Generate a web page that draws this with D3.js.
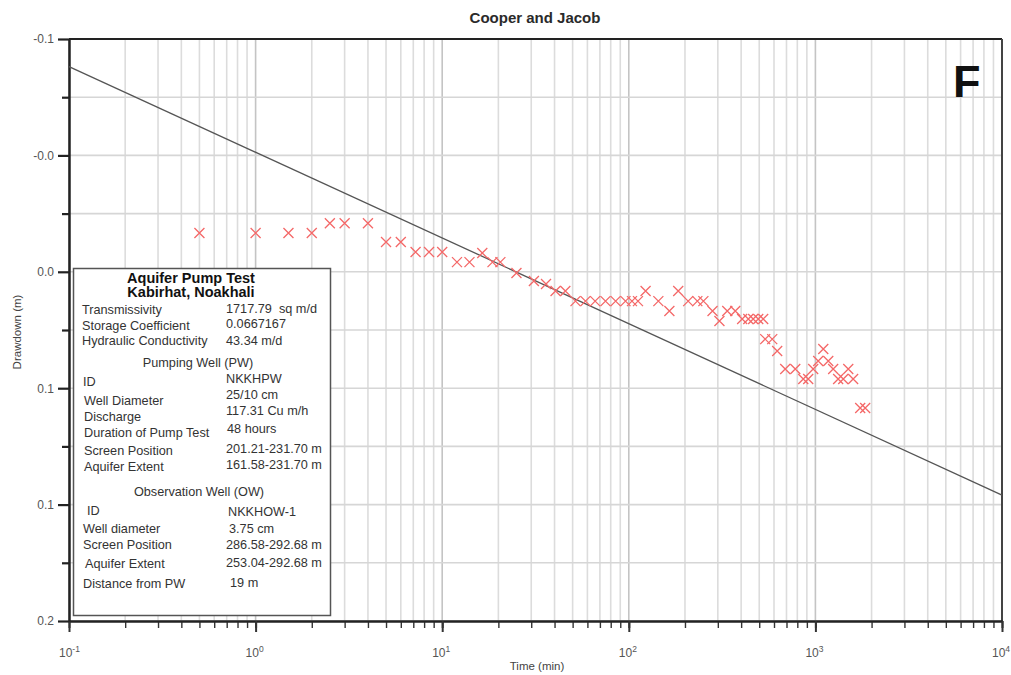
<!DOCTYPE html>
<html>
<head>
<meta charset="utf-8">
<script src="https://cdnjs.cloudflare.com/ajax/libs/d3/7.8.5/d3.min.js"></script>
<style>
  body { margin: 0; background: #fff; }
  svg { display: block; font-family: "Liberation Sans", Arial, sans-serif; }
</style>
</head>
<body>
<svg id="chart" width="1011" height="675"></svg>
<script>
// observed drawdown (time in min, drawdown in m)
var times = [0.5, 1, 1.5, 2, 2.5, 3, 4, 5, 6, 7.2, 8.5, 10, 12, 14, 16.4, 18.6, 20.5, 25, 31, 36, 40.5, 45.7,
  51.8, 58.6, 66, 75, 85, 96, 104, 112, 123, 144, 165, 184, 208, 233, 251, 281, 306, 337, 372,
  405, 437, 464, 494, 525, 538, 587, 624, 689, 780, 861, 915, 973, 1035, 1102, 1172, 1245, 1324,
  1410, 1500, 1593, 1738, 1848];
var drawdown = [0, 0, 0, 0, -0.005, -0.005, -0.005, 0.0046, 0.0046, 0.0098, 0.0098, 0.0098, 0.015, 0.015,
  0.0103, 0.015, 0.015, 0.0206, 0.0247, 0.0263, 0.0299, 0.0299,
  0.0351, 0.0351, 0.0351, 0.0351, 0.0351, 0.0351, 0.0351, 0.0351, 0.0299, 0.0351, 0.0402, 0.0299,
  0.0351, 0.0351, 0.0351, 0.0402, 0.0454, 0.0402, 0.0402,
  0.0443, 0.0443, 0.0443, 0.0443, 0.0443, 0.0547, 0.0547, 0.0608, 0.0701, 0.0701, 0.0753, 0.0753,
  0.0701, 0.066, 0.0598, 0.066, 0.0701, 0.0753, 0.0753, 0.0701, 0.0753, 0.0902, 0.0902];

// fitted Cooper-Jacob straight line
var fitTimes = [0.1, 10000];
var fitDrawdown = [-0.0858, 0.1351];

// axes
var xDecades = [0.1, 1, 10, 100, 1000, 10000];
var xDecadeExp = ["-1", "0", "1", "2", "3", "4"];
var yMajor = [-0.1, -0.04, 0.02, 0.08, 0.14, 0.2];
var yMajorLabels = ["-0.1", "-0.0", "0.0", "0.1", "0.1", "0.2"];
var yMinor = [-0.07, -0.01, 0.05, 0.11, 0.17];

// info box text
var infoHeader = ["Aquifer Pump Test", "Kabirhat, Noakhali"];
var pumpLabels = ["Transmissivity", "Storage Coefficient", "Hydraulic Conductivity"];
var pumpValues = ["1717.79  sq m/d", "0.0667167", "43.34 m/d"];
var pwTitle = "Pumping Well (PW)";
var pwLabels = ["ID", "Well Diameter", "Discharge", "Duration of Pump Test", "Screen Position", "Aquifer Extent"];
var pwValues = ["NKKHPW", "25/10 cm", "117.31 Cu m/h", "48 hours", "201.21-231.70 m", "161.58-231.70 m"];
var owTitle = "Observation Well (OW)";
var owLabels = ["ID", "Well diameter", "Screen Position", "Aquifer Extent", "Distance from PW"];
var owValues = ["NKKHOW-1", "3.75 cm", "286.58-292.68 m", "253.04-292.68 m", "19 m"];

var svg = d3.select("#chart");
var pL = 69, pR = 1002, pT = 39, pB = 621;

var x = d3.scaleLog().domain([0.1, 10000]).range([pL, pR]);
var y = d3.scaleLinear().domain([-0.1, 0.2]).range([pT, pB]);

var xAll = x.ticks();

// grid
var grid = svg.append("g");
grid.selectAll(".vg").data(xAll).enter().append("line")
  .attr("x1", d => x(d)).attr("x2", d => x(d))
  .attr("y1", pT).attr("y2", pB)
  .attr("stroke", d => xDecades.indexOf(d) >= 0 ? "#c4c4c4" : "#dcdcdc")
  .attr("stroke-width", 1.6);
grid.selectAll(".hg").data(yMajor.concat(yMinor)).enter().append("line")
  .attr("x1", pL).attr("x2", pR)
  .attr("y1", d => y(d)).attr("y2", d => y(d))
  .attr("stroke", "#d6d6d6").attr("stroke-width", 1.6);

// frame
svg.append("line").attr("x1", pL).attr("x2", pR).attr("y1", pT).attr("y2", pT)
  .attr("stroke", "#222").attr("stroke-width", 2);
svg.append("line").attr("x1", pR).attr("x2", pR).attr("y1", pT).attr("y2", pB)
  .attr("stroke", "#444").attr("stroke-width", 2);

// axes
var axX = svg.append("g").attr("transform", "translate(0," + pB + ")");
axX.call(d3.axisBottom(x).tickValues(xAll).tickSize(7).tickFormat("").tickSizeOuter(0));
axX.append("g").call(d3.axisBottom(x).tickValues(xDecades).tickSize(11).tickFormat("").tickSizeOuter(0));
axX.selectAll("path.domain").attr("stroke", "#222").attr("stroke-width", 2);
axX.selectAll("line").attr("stroke", "#333").attr("stroke-width", 1.4);
axX.selectAll("g > g > line").filter(function(d) { return xDecades.indexOf(d) >= 0; }).attr("stroke-width", 2);

var xl = svg.append("g").selectAll("text").data(xDecades).enter().append("text")
  .attr("x", d => x(d) - 10).attr("y", 657)
  .attr("font-size", 12).attr("fill", "#555");
xl.append("tspan").text("10");
xl.append("tspan").attr("dy", -5).attr("font-size", 8.5).text((d, i) => xDecadeExp[i]);

var axY = svg.append("g").attr("transform", "translate(" + pL + ",0)");
axY.call(d3.axisLeft(y).tickValues(yMinor).tickSize(7).tickFormat("").tickSizeOuter(0));
axY.append("g").call(d3.axisLeft(y).tickValues(yMajor).tickSize(11)
  .tickFormat((d, i) => yMajorLabels[i]).tickSizeOuter(0));
axY.selectAll("path.domain").attr("stroke", "#222").attr("stroke-width", 2);
axY.selectAll("line").attr("stroke", "#222").attr("stroke-width", 1.5);
axY.selectAll("g > g > line").attr("stroke-width", 2.2);
axY.selectAll("text").attr("font-size", 12).attr("fill", "#555")
  .attr("font-family", "Liberation Sans, Arial, sans-serif").attr("x", -15);

// fitted line
svg.append("path")
  .datum(fitTimes.map((t, i) => [t, fitDrawdown[i]]))
  .attr("d", d3.line().x(d => x(d[0])).y(d => y(d[1])))
  .attr("fill", "none").attr("stroke", "#555").attr("stroke-width", 1.3);

// observed points
var s = 5;
svg.append("g").selectAll("path").data(times).enter().append("path")
  .attr("d", function(t, i) {
    var cx = x(t), cy = y(drawdown[i]);
    return "M" + (cx - s) + "," + (cy - s) + "L" + (cx + s) + "," + (cy + s) +
      "M" + (cx - s) + "," + (cy + s) + "L" + (cx + s) + "," + (cy - s);
  })
  .attr("fill", "none").attr("stroke", "#f46868").attr("stroke-width", 1.3);

// titles
svg.append("text").attr("x", 535).attr("y", 23).attr("text-anchor", "middle")
  .attr("font-size", 15).attr("font-weight", "bold").attr("fill", "#2a2a2a").text("Cooper and Jacob");
svg.append("text").attr("transform", "translate(21,332) rotate(-90)").attr("text-anchor", "middle")
  .attr("font-size", 11.5).attr("fill", "#444").text("Drawdown (m)");
svg.append("text").attr("x", 537).attr("y", 670).attr("text-anchor", "middle")
  .attr("font-size", 11.5).attr("fill", "#444").text("Time (min)");
svg.append("text").attr("x", 953).attr("y", 97)
  .attr("font-size", 45).attr("font-weight", "bold").attr("fill", "#111").text("F");

// info box
var box = svg.append("g");
box.append("rect").attr("x", 73.5).attr("y", 268.5).attr("width", 257).attr("height", 347)
  .attr("fill", "#fff").attr("stroke", "#555").attr("stroke-width", 1.5);

box.selectAll(".hd").data(infoHeader).enter().append("text")
  .attr("x", 191).attr("y", (d, i) => 283 + i * 14).attr("text-anchor", "middle")
  .attr("font-size", 14.5).attr("font-weight", "bold").attr("fill", "#111").text(d => d);

function rows(labels, values, labelY, valueY, labelX, valueX) {
  box.selectAll(null).data(labels).enter().append("text")
    .attr("x", (d, i) => labelX[i]).attr("y", (d, i) => labelY[i])
    .attr("font-size", 12.7).attr("fill", "#333").text(d => d);
  box.selectAll(null).data(values).enter().append("text")
    .attr("x", (d, i) => valueX[i]).attr("y", (d, i) => valueY[i])
    .attr("font-size", 12.7).attr("fill", "#333").attr("xml:space", "preserve").text(d => d);
}

rows(pumpLabels, pumpValues, [314, 330, 345], [313, 328, 345], [82, 82, 82], [226, 226, 226]);
box.append("text").attr("x", 198).attr("y", 367).attr("text-anchor", "middle")
  .attr("font-size", 12.7).attr("fill", "#333").text(pwTitle);
rows(pwLabels, pwValues, [386, 405, 421, 437, 455, 471], [383, 399, 415, 433, 453, 469],
  [83, 84, 84, 84, 84, 84], [226, 226, 226, 227, 226, 226]);
box.append("text").attr("x", 199).attr("y", 496).attr("text-anchor", "middle")
  .attr("font-size", 12.7).attr("fill", "#333").text(owTitle);
rows(owLabels, owValues, [515, 533, 549, 568, 588], [516, 533, 549, 567, 587],
  [87, 83, 83, 85, 83], [228, 229, 226, 226, 230]);
</script>
</body>
</html>
